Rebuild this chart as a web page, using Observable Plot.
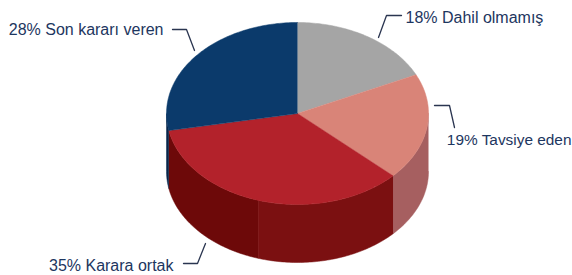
<!DOCTYPE html>
<html>
<head>
<meta charset="utf-8">
<script src="https://cdn.jsdelivr.net/npm/d3@7"></script>
<script src="https://cdn.jsdelivr.net/npm/@observablehq/plot@0.6"></script>
<style>
  html, body { margin: 0; padding: 0; background: #fff; }
  #chart svg { display: block; }
</style>
</head>
<body>
<div id="chart"></div>
<script>
// ---- Data ----
const categories = ["Dahil olmamış", "Tavsiye eden", "Karara ortak", "Son kararı veren"];
const values = [18, 19, 35, 28];

// ---- Styles ----
const topColors = ["#a5a5a5", "#d98478", "#b3222b", "#0b3a6b"];
const sideColors = ["#7a7a7a", "#a65f60", "#7b1011", "#082a50"];
const sideShadeColors = ["#6a6a6a", "#955455", "#6d0909", "#06254a"];

// ---- Layout ----
const W = 572, H = 275;
const cx = 297, cy = 113, rx = 131, ry = 91, depth = 58;
const shadeSplit = 197.5; // degrees, facet boundary of side lighting
// label layout: text anchor point + leader polyline
const labelLayout = [
  {tx: 405, ty: 17.5, anchor: "start", size: 16, leader: [[401, 15], [386, 15], [378, 37]]},
  {tx: 571, ty: 139.5, anchor: "end", size: 15.4, leader: [[434, 105], [449, 105], [454, 127]]},
  {tx: 173, ty: 265.5, anchor: "end", size: 16, leader: [[183, 263], [197, 263], [205, 243]]},
  {tx: 163, ty: 29.5, anchor: "end", size: 16, leader: [[172, 29], [186, 29], [194, 50]]}
];

// ---- Geometry from data ----
const total = d3.sum(values);
const rad = d => d * Math.PI / 180;
const P = (deg, dz = 0) => ({x: cx + rx * Math.sin(rad(deg)), y: cy - ry * Math.cos(rad(deg)) + dz});
const arc = (a0, a1, dz) => {
  const n = Math.max(2, Math.ceil(Math.abs(a1 - a0)));
  return d3.range(n + 1).map(i => P(a0 + (a1 - a0) * i / n, dz));
};

let acc = 0;
const slices = values.map((v, i) => {
  const s = acc / total * 360;
  acc += v;
  const e = acc / total * 360;
  return {i, s, e, mid: (s + e) / 2};
});

const sideRows = [];
const topRows = [];
slices.forEach(sl => {
  // visible side: angles 90..270
  const a0 = Math.max(sl.s, 90), a1 = Math.min(sl.e, 270);
  if (a1 > a0) {
    const cuts = [a0];
    if (shadeSplit > a0 && shadeSplit < a1) cuts.push(shadeSplit);
    cuts.push(a1);
    for (let k = 0; k < cuts.length - 1; k++) {
      const b0 = cuts[k], b1 = cuts[k + 1];
      const color = (b0 + b1) / 2 > shadeSplit ? sideShadeColors[sl.i] : sideColors[sl.i];
      const pts = arc(b0, b1, 0).concat(arc(b1, b0, depth));
      const id = `side-${sl.i}-${k}`;
      pts.forEach(p => sideRows.push({id, x: p.x, y: p.y, color}));
    }
  }
  const pts = [{x: cx, y: cy}].concat(arc(sl.s, sl.e, 0));
  pts.forEach(p => topRows.push({id: `top-${sl.i}`, x: p.x, y: p.y, color: topColors[sl.i]}));
});

const leaderRows = [];
labelLayout.forEach((l, i) => l.leader.forEach(([x, y]) => leaderRows.push({id: i, x, y})));
const labelRows = labelLayout.map((l, i) => ({x: l.tx, y: l.ty, anchor: l.anchor, size: l.size, text: `${values[i]}% ${categories[i]}`}));

const textMarks = labelRows.map(d => Plot.text([d], {x: "x", y: "y", text: "text", textAnchor: d.anchor, fill: "#1d3660", fontSize: d.size}));

const chart = Plot.plot({
  width: W,
  height: H,
  margin: 0,
  style: {background: "#fff", fontFamily: "'Liberation Sans', Arial, sans-serif"},
  x: {domain: [0, W], range: [0, W], axis: null},
  y: {domain: [0, H], range: [0, H], axis: null},
  marks: [
    Plot.line(sideRows, {x: "x", y: "y", z: "id", fill: "color", stroke: "color", strokeWidth: 0.5, curve: "linear"}),
    Plot.line(topRows, {x: "x", y: "y", z: "id", fill: "color", stroke: "color", strokeWidth: 0.5, curve: "linear"}),
    Plot.line(leaderRows, {x: "x", y: "y", z: "id", stroke: "#2a3550", strokeWidth: 1.3, curve: "linear"}),
    ...textMarks
  ]
});
document.getElementById("chart").appendChild(chart);
</script>
</body>
</html>
